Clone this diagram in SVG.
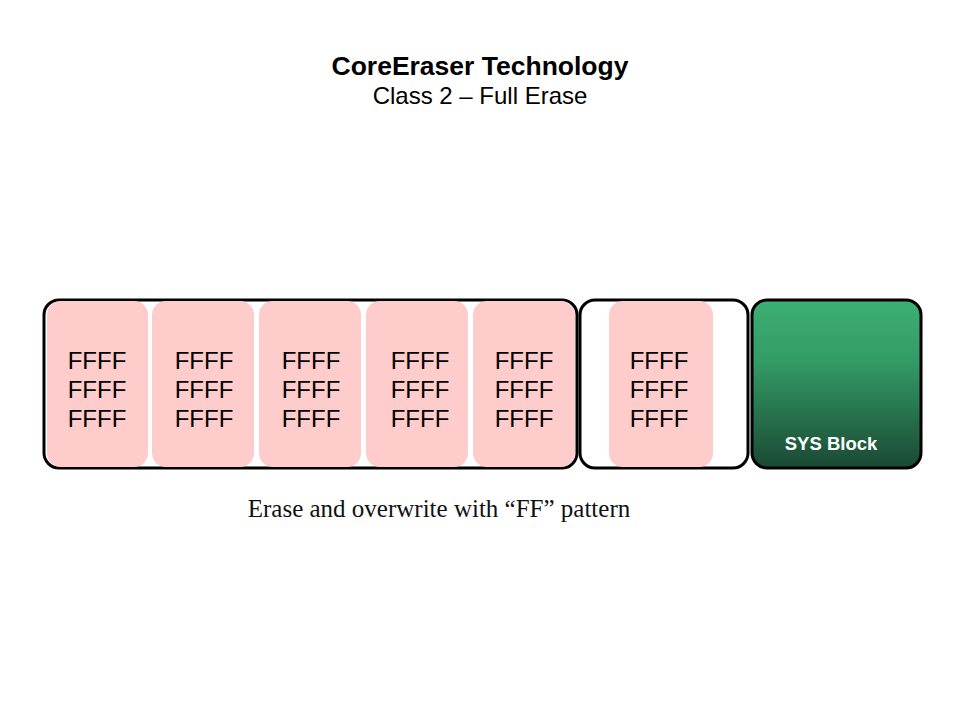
<svg xmlns="http://www.w3.org/2000/svg" width="960" height="720" viewBox="0 0 960 720">
<defs>
<linearGradient id="sysGrad" x1="0" y1="0" x2="0" y2="1">
<stop offset="0" stop-color="#3caf74"/>
<stop offset="0.35" stop-color="#349d67"/>
<stop offset="1" stop-color="#1a4934"/>
</linearGradient>
<style>
.box{fill:#ffffff;stroke:#000000;stroke-width:3}
.cell{fill:#ffcccc}
.ff{font-family:"Liberation Sans",Arial,sans-serif;font-size:24px;fill:#000000;text-anchor:middle}
</style>
</defs>
<rect width="960" height="720" fill="#ffffff"/>
<g id="title">
<text x="480" y="75" text-anchor="middle" font-family="Liberation Sans, Arial, sans-serif" font-size="26.5" font-weight="bold" fill="#000">CoreEraser Technology</text>
<text x="480" y="104" text-anchor="middle" font-family="Liberation Sans, Arial, sans-serif" font-size="24" fill="#000">Class 2 – Full Erase</text>
</g>
<g id="block1">
<rect class="box" x="44" y="300" width="533" height="168" rx="15" ry="15"/>
</g>
<g id="block2">
<rect class="box" x="580" y="300" width="168" height="168" rx="15" ry="15"/>
</g>
<g id="sys-block">
<rect x="752" y="300" width="169" height="168" rx="15" ry="15" fill="url(#sysGrad)" stroke="#000" stroke-width="3"/>
<text x="831" y="450" text-anchor="middle" font-family="Liberation Sans, Arial, sans-serif" font-size="18.5" font-weight="bold" fill="#ffffff">SYS Block</text>
</g>
<g id="cell1">
<rect class="cell" x="47" y="301" width="101" height="166" rx="14" ry="14"/>
<text class="ff" x="97" y="369">FFFF</text><text class="ff" x="97" y="398">FFFF</text><text class="ff" x="97" y="427">FFFF</text>
</g>
<g id="cell2">
<rect class="cell" x="152" y="301" width="102" height="166" rx="14" ry="14"/>
<text class="ff" x="204" y="369">FFFF</text><text class="ff" x="204" y="398">FFFF</text><text class="ff" x="204" y="427">FFFF</text>
</g>
<g id="cell3">
<rect class="cell" x="259" y="301" width="102" height="166" rx="14" ry="14"/>
<text class="ff" x="311" y="369">FFFF</text><text class="ff" x="311" y="398">FFFF</text><text class="ff" x="311" y="427">FFFF</text>
</g>
<g id="cell4">
<rect class="cell" x="366" y="301" width="102" height="166" rx="14" ry="14"/>
<text class="ff" x="420" y="369">FFFF</text><text class="ff" x="420" y="398">FFFF</text><text class="ff" x="420" y="427">FFFF</text>
</g>
<g id="cell5">
<rect class="cell" x="473" y="301" width="102" height="166" rx="14" ry="14"/>
<text class="ff" x="524" y="369">FFFF</text><text class="ff" x="524" y="398">FFFF</text><text class="ff" x="524" y="427">FFFF</text>
</g>
<g id="cell6">
<rect class="cell" x="609" y="301" width="104" height="166" rx="14" ry="14"/>
<text class="ff" x="659" y="369">FFFF</text><text class="ff" x="659" y="398">FFFF</text><text class="ff" x="659" y="427">FFFF</text>
</g>
<g id="connectors"></g>
<g id="caption">
<text x="439" y="517" text-anchor="middle" font-family="Liberation Serif, Times New Roman, serif" font-size="25" fill="#111">Erase and overwrite with “FF” pattern</text>
</g>
</svg>
